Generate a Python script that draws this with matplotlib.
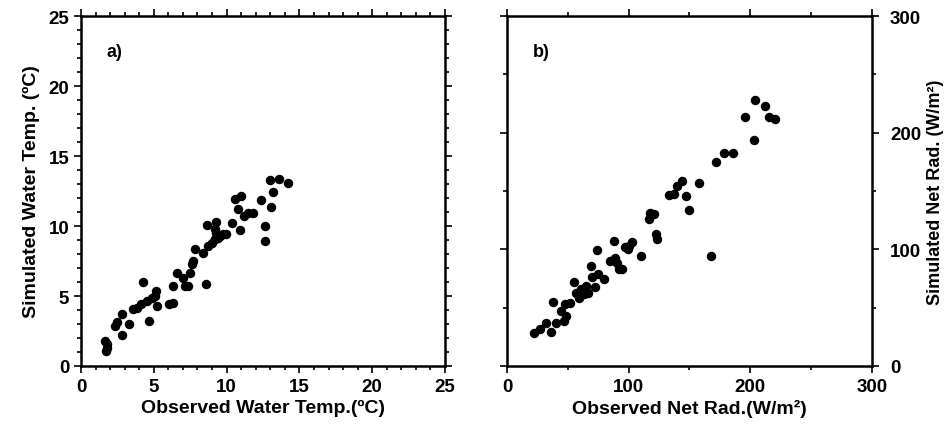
import numpy as np
import matplotlib.pyplot as plt
from matplotlib.ticker import MultipleLocator

plt.rcParams['font.family'] = ['Liberation Sans', 'DejaVu Sans']
plt.rcParams['font.weight'] = 'bold'

# panel a: water temperature (deg C)
obs_temp = [1.65, 1.77, 1.72, 1.8, 2.8, 2.33, 2.5, 2.8, 3.32, 3.55, 3.82, 4.1, 4.28,
            4.56, 4.69, 4.85, 5.15, 5.24, 5.1, 6.07, 6.3, 6.34, 6.57, 7.03, 7.14, 7.37,
            7.49, 7.6, 7.71, 7.83, 8.36, 8.58, 8.63, 8.75, 8.97, 9.2, 9.27, 9.3, 9.43,
            9.55, 9.78, 9.96, 9.2, 10.35, 10.58, 10.8, 10.97, 10.92, 11.2, 11.5, 11.8,
            12.34, 12.64, 12.64, 13.05, 13.21, 13.0, 13.62, 14.24]
sim_temp = [1.79, 1.55, 1.07, 1.3, 2.2, 2.86, 3.14, 3.69, 2.98, 4.05, 4.17, 4.4, 6.0,
            4.64, 3.21, 4.88, 5.36, 4.29, 5.0, 4.4, 4.52, 5.71, 6.67, 6.3, 5.71, 5.71,
            6.67, 7.26, 7.5, 8.38, 8.1, 5.83, 10.07, 8.57, 8.81, 9.05, 10.29, 9.52, 9.17,
            9.29, 9.4, 9.4, 9.76, 10.24, 11.9, 11.24, 12.14, 9.69, 10.7, 10.9, 10.95,
            11.83, 10.0, 8.93, 11.36, 12.43, 13.26, 13.33, 13.1]

# panel b: net radiation (W/m2)
obs_rad = [21.9, 26.8, 32.3, 36.2, 37.5, 40.5, 44.4, 47.1, 48.8, 47.9, 51.5, 54.8, 57.0,
           58.9, 60.8, 63.0, 65.2, 66.3, 69.0, 69.9, 72.6, 74.0, 74.5, 80.0, 85.0, 87.7,
           89.0, 90.4, 91.8, 94.5, 97.3, 100.0, 102.7, 99.2, 110.1, 116.4, 117.3, 121.0,
           122.7, 123.3, 132.9, 137.5, 139.7, 143.8, 147.4, 149.3, 158.0, 167.7, 172.0,
           178.6, 185.5, 195.9, 203.3, 204.1, 212.3, 215.0, 220.5]
sim_rad = [28.6, 31.5, 36.6, 29.5, 55.0, 36.6, 47.2, 38.6, 42.9, 53.0, 53.8, 72.1, 63.0,
           58.7, 65.8, 61.5, 68.7, 63.0, 85.9, 76.7, 68.1, 99.6, 78.7, 74.4, 90.2, 107.0,
           93.0, 88.7, 83.0, 83.0, 101.6, 103.0, 105.9, 100.2, 94.5, 126.0, 131.0, 130.3,
           113.0, 108.8, 146.6, 147.4, 154.6, 158.9, 146.0, 133.7, 156.9, 93.9, 174.6,
           182.6, 182.6, 213.3, 194.1, 227.6, 222.7, 213.3, 211.9]

fig = plt.figure(figsize=(9.53, 4.31), dpi=100)
ax1 = fig.add_axes([0.085, 0.1485, 0.382, 0.812])
ax2 = fig.add_axes([0.532, 0.1485, 0.383, 0.812])

for ax in (ax1, ax2):
    for s in ax.spines.values():
        s.set_linewidth(1.8)
    ax.tick_params(which='both', direction='out', top=True, right=True,
                   labelsize=13.5, width=1.2)
    ax.tick_params(which='major', length=5)
    ax.tick_params(which='minor', length=3)

ax1.plot(obs_temp, sim_temp, 'o', color='black', markersize=5.8)
ax1.set_xlim(0, 25)
ax1.set_ylim(0, 25)
ax1.xaxis.set_major_locator(MultipleLocator(5))
ax1.yaxis.set_major_locator(MultipleLocator(5))
ax1.xaxis.set_minor_locator(MultipleLocator(1))
ax1.yaxis.set_minor_locator(MultipleLocator(1))
ax1.set_xlabel('Observed Water Temp.(ºC)', fontsize=14, fontweight='bold', labelpad=3)
ax1.set_ylabel('Simulated Water Temp. (ºC)', fontsize=14, fontweight='bold', labelpad=6)
ax1.text(0.07, 0.9, 'a)', transform=ax1.transAxes, fontsize=13, fontweight='bold',
         va='center')

ax2.plot(obs_rad, sim_rad, 'o', color='black', markersize=5.8)
ax2.set_xlim(0, 300)
ax2.set_ylim(0, 300)
ax2.xaxis.set_major_locator(MultipleLocator(100))
ax2.yaxis.set_major_locator(MultipleLocator(100))
ax2.xaxis.set_minor_locator(MultipleLocator(50))
ax2.yaxis.set_minor_locator(MultipleLocator(50))
ax2.yaxis.tick_right()
ax2.tick_params(which='both', left=True, labelleft=False, labelright=True)
ax2.tick_params(axis='y', pad=8)
ax2.yaxis.set_label_position('right')
ax2.set_xlabel('Observed Net Rad.(W/m²)', fontsize=14, fontweight='bold', labelpad=3)
ax2.set_ylabel('Simulated Net Rad. (W/m²)', fontsize=13, fontweight='bold', labelpad=4)
ax2.text(0.07, 0.9, 'b)', transform=ax2.transAxes, fontsize=13, fontweight='bold',
         va='center')

fig.savefig('out.png', dpi=100)
